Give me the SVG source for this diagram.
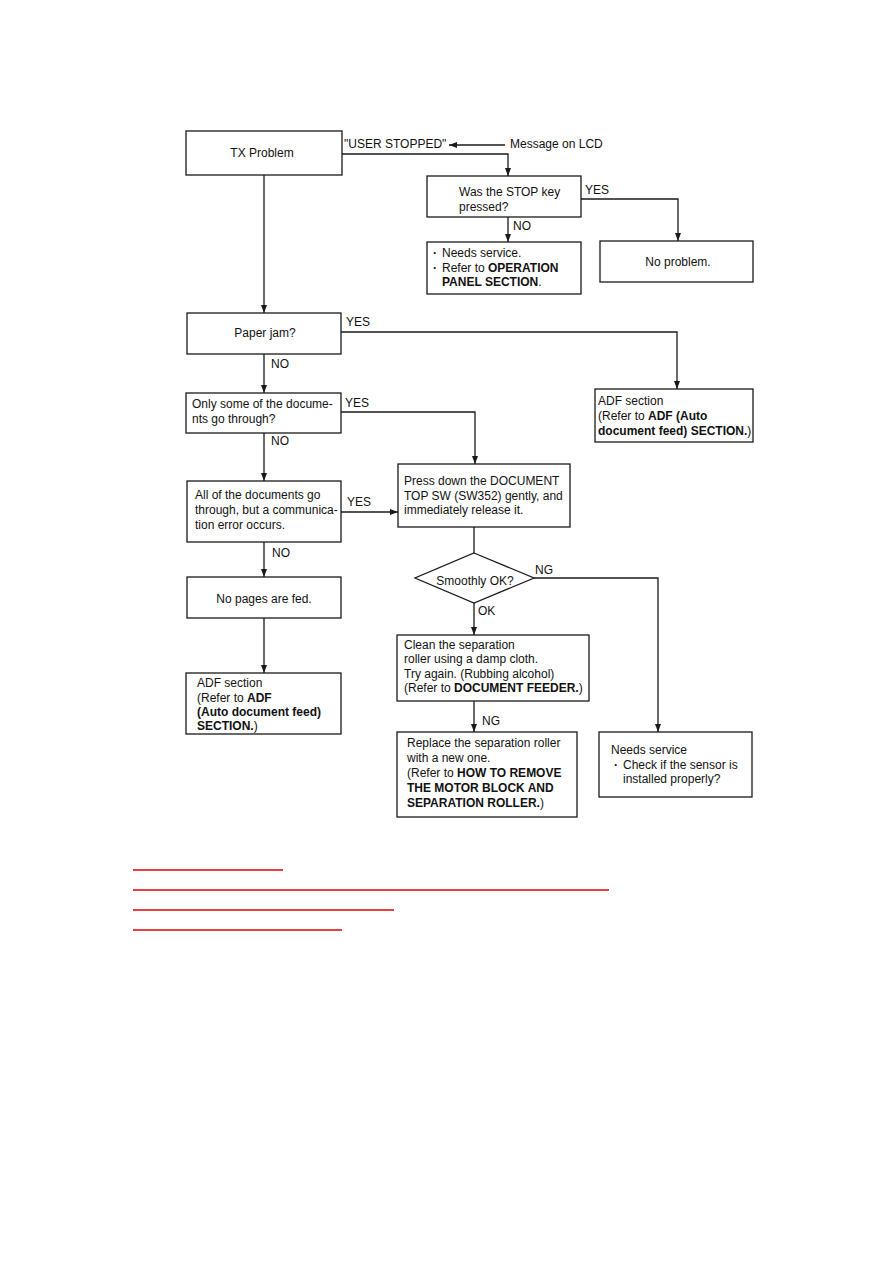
<svg xmlns="http://www.w3.org/2000/svg" width="893" height="1262" viewBox="0 0 893 1262">
<style>
.box{fill:#fff;stroke:#1a1a1a;stroke-width:1.3}
.c{fill:none;stroke:#1a1a1a;stroke-width:1.3}
.t{font-family:"Liberation Sans",Arial,sans-serif;font-size:12px;fill:#111}
.m{text-anchor:middle}
.b{font-weight:bold}
.red{stroke:#e00000;stroke-width:1.5}
</style>
<defs>
<marker id="ah" markerUnits="userSpaceOnUse" markerWidth="8" markerHeight="7" refX="8" refY="3.5" orient="auto">
<path d="M0,0.5 L8,3.5 L0,6.5 z" fill="#1a1a1a"/>
</marker>
</defs>
<rect width="893" height="1262" fill="#fff"/>

<g id="connectors">
<path class="c" d="M264,175 V313" marker-end="url(#ah)"/>
<path class="c" d="M342,154 H508 V176" marker-end="url(#ah)"/>
<path class="c" d="M505,145 H449" marker-end="url(#ah)"/>
<path class="c" d="M581,199 H678 V241" marker-end="url(#ah)"/>
<path class="c" d="M508,217 V242" marker-end="url(#ah)"/>
<path class="c" d="M341,332 H677 V389" marker-end="url(#ah)"/>
<path class="c" d="M264,354 V393" marker-end="url(#ah)"/>
<path class="c" d="M341,412 H475 V464" marker-end="url(#ah)"/>
<path class="c" d="M264,433 V481" marker-end="url(#ah)"/>
<path class="c" d="M341,512 H398" marker-end="url(#ah)"/>
<path class="c" d="M264,542 V577" marker-end="url(#ah)"/>
<path class="c" d="M264,618 V673" marker-end="url(#ah)"/>
<path class="c" d="M474,527 V553"/>
<path class="c" d="M534,578 H658 V732" marker-end="url(#ah)"/>
<path class="c" d="M474,603 V635" marker-end="url(#ah)"/>
<path class="c" d="M474,701 V732" marker-end="url(#ah)"/>
<text class="t" x="344" y="148">"USER STOPPED"</text>
<text class="t" x="510" y="148">Message on LCD</text>
<text class="t" x="585" y="194">YES</text>
<text class="t" x="513" y="230">NO</text>
<text class="t" x="346" y="326">YES</text>
<text class="t" x="271" y="368">NO</text>
<text class="t" x="345" y="407">YES</text>
<text class="t" x="271" y="445">NO</text>
<text class="t" x="347" y="506">YES</text>
<text class="t" x="272" y="557">NO</text>
<text class="t" x="535" y="574">NG</text>
<text class="t" x="478" y="615">OK</text>
<text class="t" x="482" y="725">NG</text>
</g>

<g id="tx-problem">
<rect class="box" x="186" y="131" width="156" height="44"/>
<text class="t m" x="262" y="157">TX Problem</text>
</g>

<g id="stop-key">
<rect class="box" x="427" y="176" width="154" height="41"/>
<text class="t" x="459" y="196">Was the STOP key</text>
<text class="t" x="459" y="211">pressed?</text>
</g>

<g id="needs-service-1">
<rect class="box" x="427" y="242" width="154" height="52"/>
<text class="t b" x="433" y="257">·</text><text class="t" x="442" y="257">Needs service.</text>
<text class="t b" x="433" y="272">·</text><text class="t" x="442" y="272">Refer to <tspan class="b">OPERATION</tspan></text>
<text class="t" x="442" y="286"><tspan class="b">PANEL SECTION</tspan>.</text>
</g>

<g id="no-problem">
<rect class="box" x="600" y="241" width="153" height="41"/>
<text class="t m" x="678" y="266">No problem.</text>
</g>

<g id="paper-jam">
<rect class="box" x="187" y="313" width="154" height="41"/>
<text class="t m" x="265" y="337">Paper jam?</text>
</g>

<g id="adf-right">
<rect class="box" x="595" y="389" width="158" height="53"/>
<text class="t" x="598" y="405">ADF section</text>
<text class="t" x="598" y="420">(Refer to <tspan class="b">ADF (Auto</tspan></text>
<text class="t" x="598" y="435"><tspan class="b">document feed) SECTION.</tspan>)</text>
</g>

<g id="only-some">
<rect class="box" x="186" y="393" width="155" height="40"/>
<text class="t" x="192" y="408">Only some of the docume-</text>
<text class="t" x="192" y="423">nts go through?</text>
</g>

<g id="all-docs">
<rect class="box" x="187" y="481" width="154" height="61"/>
<text class="t" x="195" y="499">All of the documents go</text>
<text class="t" x="195" y="514">through, but a communica-</text>
<text class="t" x="195" y="529">tion error occurs.</text>
</g>

<g id="press-down">
<rect class="box" x="398" y="464" width="172" height="63"/>
<text class="t" x="404" y="485">Press down the DOCUMENT</text>
<text class="t" x="404" y="500">TOP SW (SW352) gently, and</text>
<text class="t" x="404" y="514">immediately release it.</text>
</g>

<g id="no-pages">
<rect class="box" x="187" y="577" width="154" height="41"/>
<text class="t m" x="264" y="603">No pages are fed.</text>
</g>

<g id="smoothly-ok">
<path class="box" d="M474,553 L534,578 L474,603 L415,578 Z"/>
<text class="t m" x="475" y="585">Smoothly OK?</text>
</g>

<g id="adf-left">
<rect class="box" x="186" y="673" width="155" height="61"/>
<text class="t" x="197" y="687">ADF section</text>
<text class="t" x="197" y="702">(Refer to <tspan class="b">ADF</tspan></text>
<text class="t b" x="197" y="716">(Auto document feed)</text>
<text class="t" x="197" y="730"><tspan class="b">SECTION.</tspan>)</text>
</g>

<g id="clean-roller">
<rect class="box" x="397" y="635" width="192" height="66"/>
<text class="t" x="404" y="649">Clean the separation</text>
<text class="t" x="404" y="663">roller using a damp cloth.</text>
<text class="t" x="404" y="678">Try again. (Rubbing alcohol)</text>
<text class="t" x="404" y="692">(Refer to <tspan class="b">DOCUMENT FEEDER.</tspan>)</text>
</g>

<g id="replace-roller">
<rect class="box" x="397" y="732" width="180" height="85"/>
<text class="t" x="407" y="747">Replace the separation roller</text>
<text class="t" x="407" y="762">with a new one.</text>
<text class="t" x="407" y="777">(Refer to <tspan class="b">HOW TO REMOVE</tspan></text>
<text class="t b" x="407" y="792">THE MOTOR BLOCK AND</text>
<text class="t" x="407" y="807"><tspan class="b">SEPARATION ROLLER.</tspan>)</text>
</g>

<g id="needs-service-2">
<rect class="box" x="599" y="732" width="153" height="65"/>
<text class="t" x="611" y="754">Needs service</text>
<text class="t b" x="614" y="769">·</text><text class="t" x="623" y="769">Check if the sensor is</text>
<text class="t" x="623" y="783">installed properly?</text>
</g>

<g id="links">
<line class="red" x1="133" y1="870" x2="283" y2="870"/>
<line class="red" x1="133" y1="890" x2="609" y2="890"/>
<line class="red" x1="133" y1="910" x2="394" y2="910"/>
<line class="red" x1="133" y1="930" x2="342" y2="930"/>
</g>
</svg>
